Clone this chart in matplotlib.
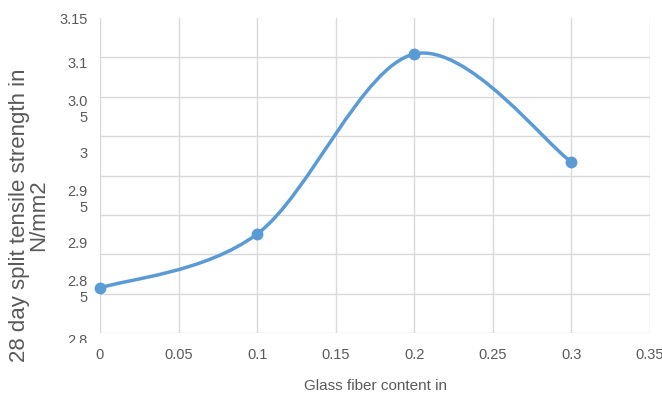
import numpy as np
import matplotlib
matplotlib.use("Agg")
import matplotlib.pyplot as plt
from matplotlib.path import Path
from matplotlib.patches import PathPatch
from matplotlib.transforms import Bbox, TransformedBbox

# Data
fiber_content = [0.0, 0.1, 0.2, 0.3]
tensile_strength = [2.85, 2.91, 3.11, 2.99]
x_ticks = [0, 0.05, 0.1, 0.15, 0.2, 0.25, 0.3, 0.35]
x_tick_labels = ["0", "0.05", "0.1", "0.15", "0.2", "0.25", "0.3", "0.35"]
y_ticks = [3.15, 3.1, 3.05, 3.0, 2.95, 2.9, 2.85, 2.8]
y_tick_labels = ["3.15", "3.1", "3.0\n5", "3", "2.9\n5", "2.9", "2.8\n5", "2.8"]

LINE = "#5B9BD5"
GRID = "#D9D9D9"
TEXT = "#595959"
sans = ["Liberation Sans", "DejaVu Sans"]

fig = plt.figure(figsize=(6.62, 3.96), dpi=100)
ax = fig.add_axes([100 / 662, (396 - 333) / 396, 550 / 662, 315 / 396])
ax.set_xlim(0, 0.35)
ax.set_ylim(2.8, 3.15)

# Gridlines: vertical at x ticks, horizontal at eight equal divisions
ax.set_xticks(x_ticks)
ax.set_xticklabels(x_tick_labels, family=sans, fontsize=10.5, color=TEXT)
ax.set_yticks(y_ticks[:-1])
ax.set_yticklabels(y_tick_labels[:-1], family=sans, fontsize=10.5, color=TEXT,
                   linespacing=1.15)
ax.set_yticks(np.linspace(2.8, 3.15, 9), minor=True)
ax.tick_params(axis="both", which="both", length=0)
ax.tick_params(axis="y", pad=9)
ax.tick_params(axis="x", pad=11)
ax.grid(True, axis="x", which="major", color=GRID, lw=1.0)
ax.grid(True, axis="y", which="minor", color=GRID, lw=1.0)
ax.grid(False, axis="y", which="major")
for s in ax.spines.values():
    s.set_visible(False)
ax.set_axisbelow(True)

# Lowest y label sits slightly below its tick and is cut off at the bottom
low = ax.annotate(y_tick_labels[-1], xy=(0, y_ticks[-1]),
                  xycoords=("axes fraction", "data"),
                  xytext=(-9, -6), textcoords="offset points",
                  ha="right", va="center", family=sans, fontsize=10.5,
                  color=TEXT, annotation_clip=False)
low.set_clip_box(TransformedBbox(Bbox([[0, (396 - 343) / 396], [1, 1]]),
                                 fig.transFigure))
low.set_clip_on(True)

# Smoothed line through the points (cubic Bezier segments)
pts = np.column_stack([fiber_content, tensile_strength])
verts = [tuple(pts[0])]
codes = [Path.MOVETO]
n = len(pts)
for i in range(n - 1):
    p0 = pts[max(i - 1, 0)]
    p1 = pts[i]
    p2 = pts[i + 1]
    p3 = pts[min(i + 2, n - 1)]
    c1 = p1 + (p2 - p0) / 6.0
    c2 = p2 - (p3 - p1) / 6.0
    verts += [tuple(c1), tuple(c2), tuple(p2)]
    codes += [Path.CURVE4] * 3
ax.add_patch(PathPatch(Path(verts, codes), facecolor="none", edgecolor=LINE,
                       lw=2.5, capstyle="round", zorder=3))
ax.plot(fiber_content, tensile_strength, ls="none", marker="o", ms=7.5,
        color=LINE, zorder=4, clip_on=False)

ax.set_xlabel("Glass fiber content in", family=sans, fontsize=11,
              color=TEXT, labelpad=12)
fig.text(29 / 662, 1 - 215 / 396, "28 day split tensile strength in\nN/mm2",
         rotation=90, ha="center", va="center", fontsize=16, color=TEXT,
         family=sans, linespacing=0.85)

fig.savefig("out.png", dpi=100)
